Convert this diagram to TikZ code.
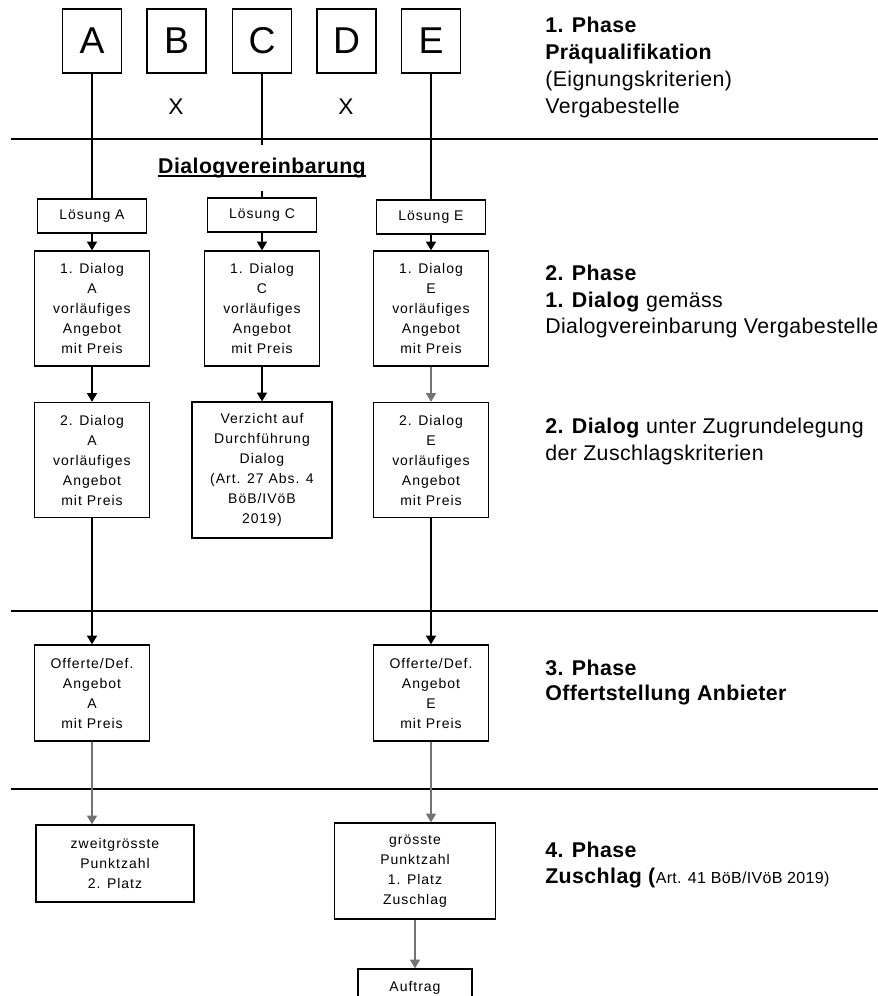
\documentclass[tikz,border=0pt]{standalone}
\usepackage{fontspec}
\setmainfont{Liberation Sans}
\newfontfamily\boxfont[LetterSpace=7]{Liberation Sans}
\newfontfamily\phasefont[LetterSpace=2]{Liberation Sans}
\usetikzlibrary{arrows.meta}

\begin{document}
\begin{tikzpicture}[x=0.75pt, y=-0.75pt,
	firm/.style={draw, line width=1pt, minimum width=44.25pt, minimum height=48pt, inner sep=0pt, font=\fontsize{28}{30}\selectfont},
	box/.style={draw, line width=1pt, align=center, inner sep=1pt, font=\boxfont\fontsize{10.5}{15}\selectfont},
	loes/.style={box, minimum width=81.75pt, minimum height=25.5pt},
	dlg/.style={box, minimum width=86.25pt, minimum height=86.25pt},
	link/.style={line width=1pt},
	arr/.style={line width=1pt, -{Triangle[length=6.5pt, width=7.5pt]}},
	faint/.style={draw=black!55, fill=black!55},
	phase/.style={anchor=base west, inner sep=0pt, font=\phasefont\fontsize{16}{20}\selectfont}]
			%%%%% START %%%%%
			\useasboundingbox (0,0) rectangle (878,996);
			
			% phase separators
			\draw[link] (11,139) -- (878,139);
			\draw[link] (11,611) -- (878,611);
			\draw[link] (11,789) -- (878,789);
			
			% bidders
			\node[firm] (A) at (92,41) {A};
			\node[firm] (B) at (176.5,41) {B};
			\node[firm] (C) at (262,41) {C};
			\node[firm] (D) at (346.5,41) {D};
			\node[firm] (E) at (431,41) {E};
			\node[font=\fontsize{17}{18}\selectfont] (xB) at (176,107) {X};
			\node[font=\fontsize{17}{18}\selectfont] (xD) at (346,107) {X};
			
			% 2. Phase
			\node[loes] (loesA) at (92,216) {Lösung A};
			\node[loes] (loesC) at (262,215) {Lösung C};
			\node[loes] (loesE) at (431,217) {Lösung E};
			
			\draw[link] (A) -- (loesA);
			\draw[link] (C) -- (loesC);
			\draw[link] (E) -- (loesE);
			\node[fill=white, inner sep=0pt, minimum height=34pt, font=\phasefont\bfseries\fontsize{16}{20}\selectfont] (dv) at (262,168) {Dialogvereinbarung};
			\draw[line width=1pt] ([yshift=-2pt]dv.base west) -- ([yshift=-2pt]dv.base east);
			
			\node[dlg] (dlg1A) at (92,308.5) {1. Dialog\\A\\vorläufiges\\Angebot\\mit Preis};
			\node[dlg] (dlg1C) at (262,308.5) {1. Dialog\\C\\vorläufiges\\Angebot\\mit Preis};
			\node[dlg] (dlg1E) at (431,308.5) {1. Dialog\\E\\vorläufiges\\Angebot\\mit Preis};
			
			\node[dlg] (dlg2A) at (92,460) {2. Dialog\\A\\vorläufiges\\Angebot\\mit Preis};
			\node[box, minimum width=105pt, minimum height=102pt] (verz) at (262,470) {Verzicht auf\\Durchführung\\Dialog\\(Art. 27 Abs. 4\\BöB/IVöB\\2019)};
			\node[dlg] (dlg2E) at (431,460) {2. Dialog\\E\\vorläufiges\\Angebot\\mit Preis};
			
			\draw[arr] (loesA) -- (dlg1A);
			\draw[arr] (loesC) -- (dlg1C);
			\draw[arr] (loesE) -- (dlg1E);
			\draw[arr] (dlg1A) -- (dlg2A);
			\draw[arr] (dlg1C) -- (verz);
			\draw[arr, faint] (dlg1E) -- (dlg2E);
			
			% 3. Phase
			\node[box, minimum width=86.25pt, minimum height=72pt] (offA) at (92,693) {Offerte/Def.\\Angebot\\A\\mit Preis};
			\node[box, minimum width=86.25pt, minimum height=72pt] (offE) at (431,693) {Offerte/Def.\\Angebot\\E\\mit Preis};
			
			\draw[arr] (dlg2A) -- (offA);
			\draw[arr] (dlg2E) -- (offE);
			
			% 4. Phase
			\node[box, minimum width=118.5pt, minimum height=57.75pt] (platz2) at (115,863.5) {zweitgrösste\\Punktzahl\\2. Platz};
			\node[box, minimum width=120.75pt, minimum height=72pt] (platz1) at (415,871) {grösste\\Punktzahl\\1. Platz\\Zuschlag};
			\node[box, minimum width=85.5pt, minimum height=28.5pt] (auftrag) at (415,988) {Auftrag};
			
			\draw[arr, faint] (offA) -- (offA |- platz2.north);
			\draw[arr, faint] (offE) -- (offE |- platz1.north);
			\draw[arr, faint] (platz1) -- (auftrag);
			
			% phase texts
			\node[phase] (ph1a) at (545,32) {\textbf{1. Phase}};
			\node[phase] (ph1b) at (545,59) {\textbf{Präqualifikation}};
			\node[phase] (ph1c) at (545,86) {(Eignungskriterien)};
			\node[phase] (ph1d) at (545,113) {Vergabestelle};
			
			\node[phase] (ph2a) at (545,280) {\textbf{2. Phase}};
			\node[phase] (ph2b) at (545,307) {\textbf{1. Dialog} gemäss};
			\node[phase] (ph2c) at (545,333) {Dialogvereinbarung Vergabestelle};
			\node[phase] (ph2d) at (545,433) {\textbf{2. Dialog} unter Zugrundelegung};
			\node[phase] (ph2e) at (545,460) {der Zuschlagskriterien};
			
			\node[phase] (ph3a) at (545,675) {\textbf{3. Phase}};
			\node[phase] (ph3b) at (545,700) {\textbf{Offertstellung Anbieter}};
			
			\node[phase] (ph4a) at (545,857) {\textbf{4. Phase}};
			\node[phase] (ph4b) at (545,883) {\textbf{Zuschlag (}{\fontsize{12}{14}\selectfont Art. 41 BöB/IVöB 2019)}};
			
			%%%%% END %%%%%
		\end{tikzpicture}
\end{document}
